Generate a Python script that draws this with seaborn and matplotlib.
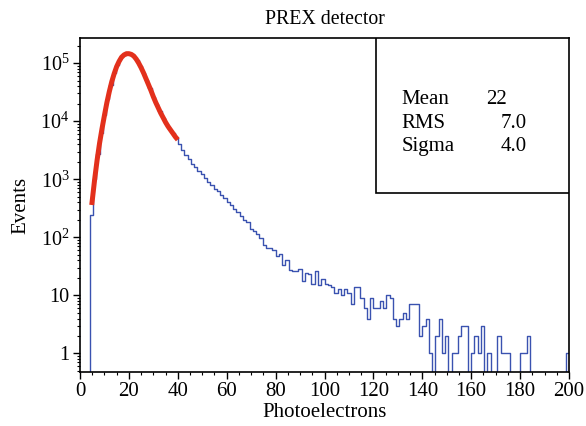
import numpy as np
import pandas as pd
import matplotlib
matplotlib.use("Agg")
import matplotlib.pyplot as plt
import matplotlib.ticker as mticker
from matplotlib.patches import Rectangle
import seaborn as sns

# ---------------- data ----------------
bin_lo, bin_hi, n_bins = 0.0, 200.0, 150
# counts per bin (bins 0..149, width 4/3)
counts_head = [0, 0, 0, 240, 1000, 2700, 6300, 12600, 24300, 42200,
               66100, 93300, 120000, 138000, 145000, 142000, 132000, 112000, 89000, 67600,
               50100, 36700, 26300, 19500, 14800, 11500, 9000, 7400, 6170, 5190]
counts_mid = [3980, 3160, 2630, 2190, 1860, 1620, 1410, 1230, 1050, 890,
              794, 692, 617, 537, 468, 407, 363, 309, 275, 234,
              200, 185, 140, 130, 112]
counts_tail1 = [98, 74, 66, 66, 60, 47, 52, 33, 40, 27,
                26, 26, 29, 18, 24, 23, 16, 26, 15, 19,
                16, 15, 14, 11, 13, 10, 13, 11, 7, 14,
                14, 9, 6, 4]
counts_tail2 = [9, 6, 6, 8, 6, 10, 9, 4, 3, 4,
                5, 4, 7, 7, 7, 2, 3, 4, 1, 0,
                2, 4, 1, 2, 0, 1, 1, 2, 3, 3,
                0, 1, 2, 1, 3, 0, 1, 0, 0, 2,
                1, 1, 1, 0, 0, 0, 1, 1, 2, 0,
                0, 0, 0, 0, 0, 0, 0, 0, 0, 0,
                1]
counts = counts_head + counts_mid + counts_tail1 + counts_tail2

# fit curve
fit_x = [4.8, 6, 7, 8, 9, 10, 11, 12, 13, 14, 15, 16, 17, 18, 19, 20, 21, 22, 23, 24,
         25, 26, 27, 28, 29, 30, 31, 32, 33, 34, 35, 36, 37, 38, 39, 40]
fit_y = [360, 1000, 2140, 4170, 7410, 12600, 20900, 32400, 47900, 66100,
         87100, 107000, 126000, 138000, 145000, 145000, 141000, 132000, 117000, 100000,
         83200, 67600, 53700, 42700, 33900, 26300, 20900, 17000, 13800, 11500,
         9550, 8130, 7080, 6170, 5370, 4790]

stat_names = ["Mean", "RMS", "Sigma"]
stat_values = ["22", "7.0", "4.0"]

ytick_vals = [1, 10, 100, 1000, 10000, 100000]
ytick_labels = ["1", "10", r"$10^{2}$", r"$10^{3}$", r"$10^{4}$", r"$10^{5}$"]

# ---------------- style ----------------
sns.set_theme(style="white")
plt.rcParams["font.family"] = ["Liberation Serif", "DejaVu Serif"]
plt.rcParams["mathtext.fontset"] = "custom"
plt.rcParams["mathtext.rm"] = "Liberation Serif"
plt.rcParams["mathtext.it"] = "Liberation Serif:italic"

blue = "#3a52b0"
red = "#e3301c"

fig = plt.figure(figsize=(5.86, 4.26), dpi=100)
ax = fig.add_axes([80 / 586, (426 - 372) / 426, (569 - 80) / 586, (372 - 38) / 426])

n = len(counts)
bw = (bin_hi - bin_lo) / n_bins
centers = bin_lo + bw * (np.arange(n) + 0.5)
hist_df = pd.DataFrame({"pe": centers, "n": np.asarray(counts, dtype=float)})

sns.histplot(data=hist_df, x="pe", weights="n", binwidth=bw, binrange=(bin_lo, bin_hi),
             element="step", fill=False, color=blue, linewidth=1.0, ax=ax)
fit_df = pd.DataFrame({"x": fit_x, "y": fit_y})
sns.lineplot(data=fit_df, x="x", y="y", color=red, linewidth=3.6, ax=ax,
             estimator=None, sort=False, solid_capstyle="butt")

ax.set_yscale("log")
ax.set_xlim(0, 200)
ax.set_ylim(0.48, 2.7e5)

ax.xaxis.set_major_locator(mticker.MultipleLocator(20))
ax.xaxis.set_minor_locator(mticker.MultipleLocator(5))
ax.yaxis.set_major_locator(mticker.FixedLocator(ytick_vals))
ax.yaxis.set_major_formatter(mticker.FixedFormatter(ytick_labels))
ax.yaxis.set_minor_locator(mticker.LogLocator(base=10, subs=np.arange(2, 10)))
ax.yaxis.set_minor_formatter(mticker.NullFormatter())

ax.tick_params(axis="both", which="major", direction="out", length=5, width=1.0,
               color="black", labelcolor="black", pad=2.5,
               bottom=True, left=True, top=False, right=False)
ax.tick_params(axis="x", which="major", labelsize=15)
ax.tick_params(axis="y", which="major", labelsize=14.5)
ax.tick_params(axis="both", which="minor", direction="out", length=2.5, width=0.8,
               color="black", bottom=True, left=True, top=False, right=False)

for s in ax.spines.values():
    s.set_visible(True)
    s.set_color("black")
    s.set_linewidth(1.2)

ax.set_xlabel("Photoelectrons", fontsize=15, color="black", labelpad=1)
ax.set_ylabel("Events", fontsize=15, color="black", labelpad=7)
ax.set_title("PREX detector", fontsize=14.3, color="black", pad=10)

# stats box
box = Rectangle((0.605, 0.536), 0.395, 0.464, transform=ax.transAxes,
                facecolor="white", edgecolor="black", linewidth=1.2, zorder=5)
ax.add_patch(box)
ys = [0.815, 0.745, 0.675]
vx = [0.873, 0.914, 0.914]
for name, val, y, x in zip(stat_names, stat_values, ys, vx):
    ax.text(0.658, y, name, transform=ax.transAxes, fontsize=15, va="center",
            ha="left", zorder=6, color="black")
    ax.text(x, y, val, transform=ax.transAxes, fontsize=15, va="center",
            ha="right", zorder=6, color="black")

fig.savefig("out.png", dpi=100)
